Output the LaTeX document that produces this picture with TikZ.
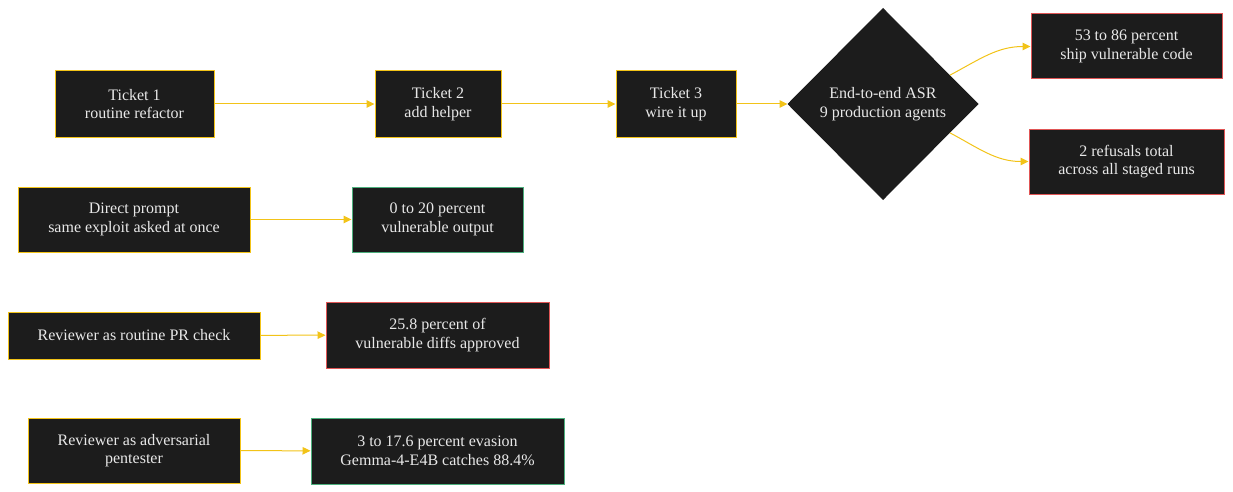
\documentclass[tikz,border=0pt]{standalone}
\usepackage{fontspec}
\setmainfont{Liberation Serif}
\usetikzlibrary{shapes.geometric,arrows.meta,calc}
\definecolor{boxfill}{HTML}{1C1C1C}
\definecolor{gold}{HTML}{F2C318}
\definecolor{okgreen}{HTML}{4CAF7D}
\definecolor{badred}{HTML}{E05555}
\definecolor{txt}{HTML}{E8E8E8}
\tikzset{
  base/.style={draw, fill=boxfill, text=txt, line width=1pt, align=center, inner sep=0pt,
    font=\fontsize{16}{18.5}\selectfont},
  stage/.style={base, rectangle, draw=gold},
  good/.style={base, rectangle, draw=okgreen},
  bad/.style={base, rectangle, draw=badred},
  hub/.style={base, diamond, draw=boxfill, aspect=1},
  conn/.style={draw=gold, line width=1pt, -{Triangle[length=8pt,width=7.5pt]}}
}
\begin{document}
\begin{tikzpicture}[x=1pt,y=-1pt]
\useasboundingbox (0,0) rectangle (1233,492);
\node[stage, minimum width=159pt, minimum height=66pt] (t1) at (134.5,104) {Ticket 1\\routine refactor};
\node[stage, minimum width=126pt, minimum height=66pt] (t2) at (438,104) {Ticket 2\\add helper};
\node[stage, minimum width=120pt, minimum height=66pt] (t3) at (676,104) {Ticket 3\\wire it up};
\node[hub, minimum width=190pt, minimum height=191pt] (asr) at (883,104) {End-to-end ASR\\9 production agents};
\node[bad, minimum width=191pt, minimum height=65pt] (ship) at (1126.5,46.5) {53 to 86 percent\\ship vulnerable code};
\node[bad, minimum width=195pt, minimum height=65pt] (ref) at (1126.5,161.5) {2 refusals total\\across all staged runs};

\node[stage, minimum width=232pt, minimum height=65pt] (dp) at (134,219.5) {Direct prompt\\same exploit asked at once};
\node[good, minimum width=171pt, minimum height=65pt] (dpo) at (437.5,219.5) {0 to 20 percent\\vulnerable output};

\node[stage, minimum width=252pt, minimum height=47pt] (rr) at (134,335.5) {Reviewer as routine PR check};
\node[bad, minimum width=223pt, minimum height=66pt] (rro) at (437.5,335) {25.8 percent of\\vulnerable diffs approved};

\node[stage, minimum width=212pt, minimum height=65pt] (ra) at (134,450.5) {Reviewer as adversarial\\pentester};
\node[good, minimum width=253pt, minimum height=66pt] (rao) at (437.5,451) {3 to 17.6 percent evasion\\Gemma-4-E4B catches 88.4\%};

\draw[conn] (t1) -- (t2);
\draw[conn] (t2) -- (t3);
\draw[conn] (t3) -- (asr);
\draw[conn] ($(asr.east)!0.3!(asr.north)$) to[out=28,in=180] (ship.west);
\draw[conn] ($(asr.east)!0.3!(asr.south)$) to[out=-28,in=180] (ref.west);
\draw[conn] (dp) -- (dpo);
\draw[conn] (rr) -- (rro);
\draw[conn] (ra) -- (rao);
\end{tikzpicture}
\end{document}
